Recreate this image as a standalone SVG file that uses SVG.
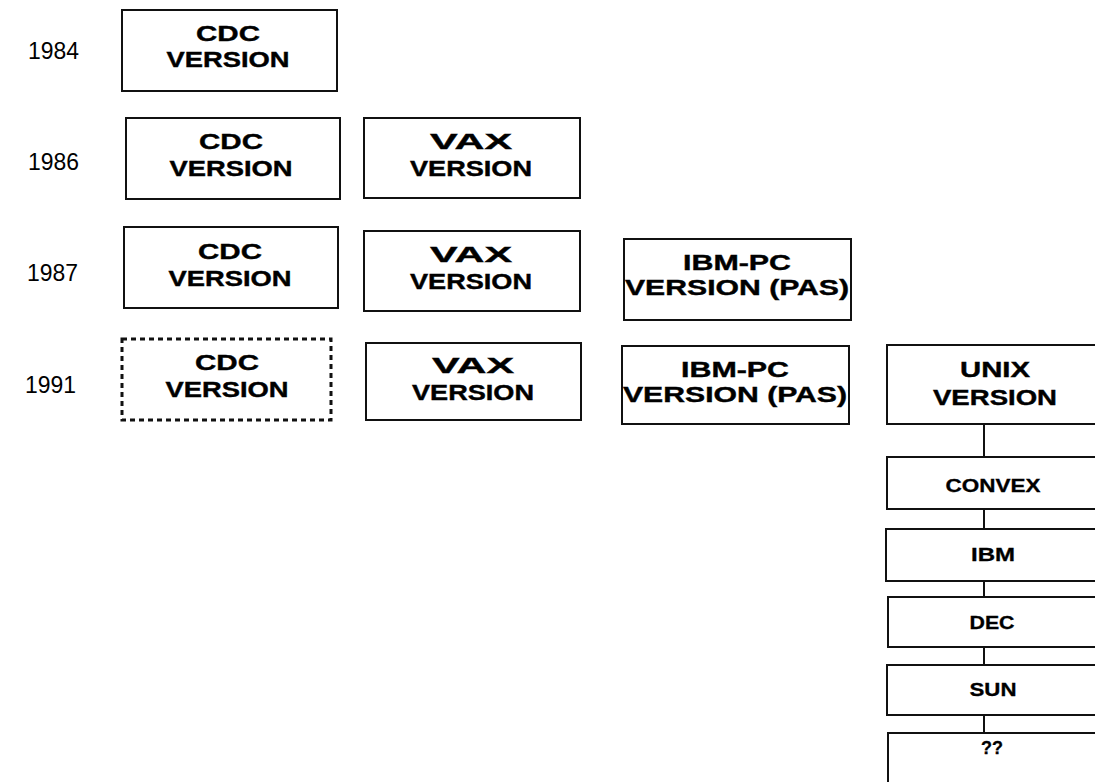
<svg xmlns="http://www.w3.org/2000/svg" width="1095" height="782" viewBox="0 0 1095 782">
<style>
.box{fill:#fff;stroke:#111;stroke-width:2}
.dot{fill:#fff;stroke:#111;stroke-width:3;stroke-dasharray:5 4}
.t{font-family:"Liberation Sans",Arial,sans-serif;font-weight:bold;font-size:22px;fill:#000;stroke:#000;stroke-width:0.4;text-anchor:middle}
.s{font-family:"Liberation Sans",Arial,sans-serif;font-weight:bold;font-size:18px;fill:#000;stroke:#000;stroke-width:0.3;text-anchor:middle}
.y{font-family:"Liberation Sans",Arial,sans-serif;font-size:24px;fill:#000}
.c{stroke:#111;stroke-width:2;fill:none}
</style>
<rect width="1095" height="782" fill="#fff"/>
<g id="years">
<text class="y" x="28" y="59" textLength="51" lengthAdjust="spacingAndGlyphs">1984</text>
<text class="y" x="28" y="170" textLength="51" lengthAdjust="spacingAndGlyphs">1986</text>
<text class="y" x="27" y="281" textLength="51" lengthAdjust="spacingAndGlyphs">1987</text>
<text class="y" x="25" y="393" textLength="51" lengthAdjust="spacingAndGlyphs">1991</text>
</g>
<g id="connectors">
<line class="c" x1="984" y1="424" x2="984" y2="457"/>
<line class="c" x1="984" y1="509" x2="984" y2="529"/>
<line class="c" x1="984" y1="581" x2="984" y2="597"/>
<line class="c" x1="984" y1="647" x2="984" y2="665"/>
<line class="c" x1="984" y1="715" x2="984" y2="733"/>
</g>
<g id="cdc1984">
<rect class="box" x="122" y="10" width="215" height="81"/>
<text class="t" x="228" y="41" textLength="64" lengthAdjust="spacingAndGlyphs">CDC</text>
<text class="t" x="228" y="67" textLength="123" lengthAdjust="spacingAndGlyphs">VERSION</text>
</g>
<g id="cdc1986">
<rect class="box" x="126" y="118" width="214" height="81"/>
<text class="t" x="231" y="149" textLength="64" lengthAdjust="spacingAndGlyphs">CDC</text>
<text class="t" x="231" y="176" textLength="123" lengthAdjust="spacingAndGlyphs">VERSION</text>
</g>
<g id="vax1986">
<rect class="box" x="364" y="118" width="216" height="80"/>
<text class="t" x="471" y="149" textLength="82" lengthAdjust="spacingAndGlyphs">VAX</text>
<text class="t" x="471" y="176" textLength="122" lengthAdjust="spacingAndGlyphs">VERSION</text>
</g>
<g id="cdc1987">
<rect class="box" x="124" y="227" width="214" height="81"/>
<text class="t" x="230" y="259" textLength="64" lengthAdjust="spacingAndGlyphs">CDC</text>
<text class="t" x="230" y="286" textLength="123" lengthAdjust="spacingAndGlyphs">VERSION</text>
</g>
<g id="vax1987">
<rect class="box" x="364" y="231" width="216" height="80"/>
<text class="t" x="471" y="262" textLength="82" lengthAdjust="spacingAndGlyphs">VAX</text>
<text class="t" x="471" y="289" textLength="122" lengthAdjust="spacingAndGlyphs">VERSION</text>
</g>
<g id="ibmpc1987">
<rect class="box" x="624" y="239" width="227" height="81"/>
<text class="t" x="737" y="270" textLength="108" lengthAdjust="spacingAndGlyphs">IBM-PC</text>
<text class="t" x="737" y="295" textLength="224" lengthAdjust="spacingAndGlyphs">VERSION (PAS)</text>
</g>
<g id="cdc1991">
<rect class="dot" x="122" y="339" width="209" height="81"/>
<text class="t" x="227" y="370" textLength="64" lengthAdjust="spacingAndGlyphs">CDC</text>
<text class="t" x="227" y="397" textLength="123" lengthAdjust="spacingAndGlyphs">VERSION</text>
</g>
<g id="vax1991">
<rect class="box" x="366" y="343" width="215" height="77"/>
<text class="t" x="473" y="373" textLength="82" lengthAdjust="spacingAndGlyphs">VAX</text>
<text class="t" x="473" y="400" textLength="122" lengthAdjust="spacingAndGlyphs">VERSION</text>
</g>
<g id="ibmpc1991">
<rect class="box" x="622" y="346" width="227" height="78"/>
<text class="t" x="735" y="377" textLength="108" lengthAdjust="spacingAndGlyphs">IBM-PC</text>
<text class="t" x="735" y="402" textLength="224" lengthAdjust="spacingAndGlyphs">VERSION (PAS)</text>
</g>
<g id="unix">
<rect class="box" x="887" y="345" width="216" height="79"/>
<text class="t" x="995" y="377" textLength="70" lengthAdjust="spacingAndGlyphs">UNIX</text>
<text class="t" x="995" y="405" textLength="124" lengthAdjust="spacingAndGlyphs">VERSION</text>
</g>
<g id="convex">
<rect class="box" x="887" y="457" width="216" height="52"/>
<text class="s" x="993" y="492" textLength="95" lengthAdjust="spacingAndGlyphs">CONVEX</text>
</g>
<g id="ibm">
<rect class="box" x="886" y="529" width="217" height="52"/>
<text class="s" x="993" y="561" textLength="44" lengthAdjust="spacingAndGlyphs">IBM</text>
</g>
<g id="dec">
<rect class="box" x="888" y="597" width="215" height="50"/>
<text class="s" x="992" y="629" textLength="45" lengthAdjust="spacingAndGlyphs">DEC</text>
</g>
<g id="sun">
<rect class="box" x="887" y="665" width="216" height="50"/>
<text class="s" x="993" y="696" textLength="47" lengthAdjust="spacingAndGlyphs">SUN</text>
</g>
<g id="unknown">
<rect class="box" x="888" y="733" width="215" height="60"/>
<text class="s" x="992" y="754" textLength="22" lengthAdjust="spacingAndGlyphs">??</text>
</g>
</svg>
